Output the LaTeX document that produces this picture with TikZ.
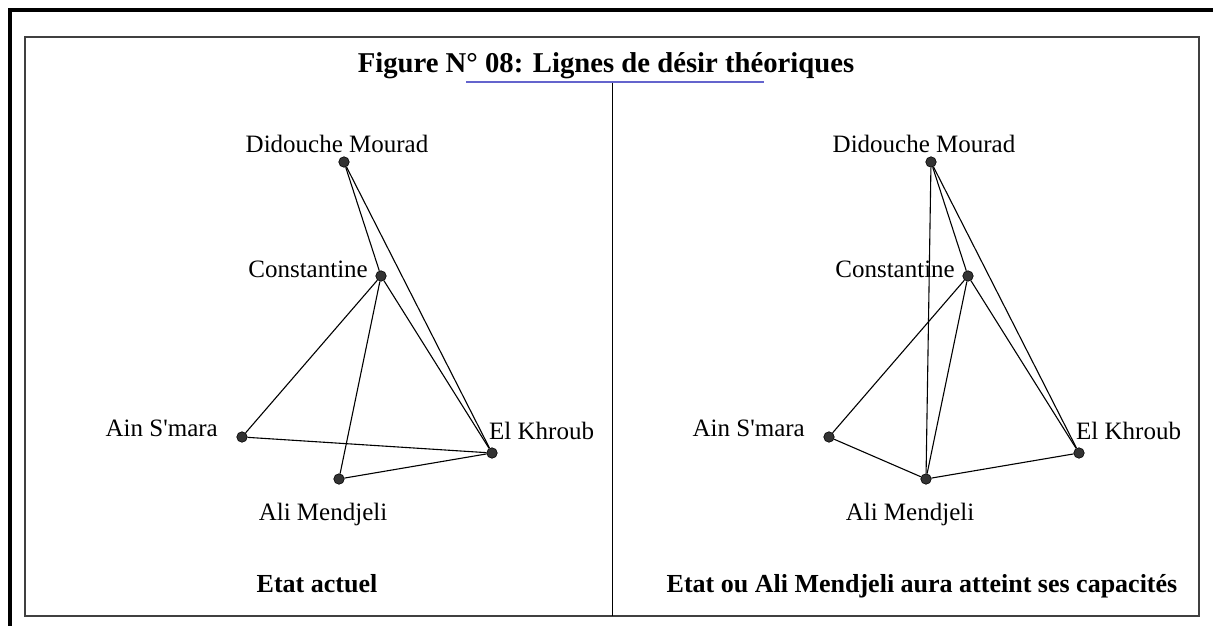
\documentclass[tikz,border=0pt]{standalone}
\usepackage{fontspec}
\setmainfont{Liberation Serif}[Ligatures=TeXOff]
\usetikzlibrary{positioning}
\definecolor{linkblue}{RGB}{100,100,205}
\def\panelsep{587}

\begin{document}
\begin{tikzpicture}[x=1pt,y=-1pt]
    \tikzstyle{town}=[circle,draw=black,fill=black!80,minimum size=10.5pt,inner sep=0pt,line width=0.6pt]
    \tikzstyle{townname}=[font=\fontsize{25}{30}\selectfont,inner sep=0pt]
    \tikzstyle{caption}=[font=\fontsize{26}{30}\selectfont\bfseries,inner sep=0pt,anchor=base]
    \tikzstyle{road}=[draw=black,line width=1.1pt]

    \useasboundingbox (0,0) rectangle (1213,626);

    % page frame and figure box
    \draw[line width=4pt] (10,640) -- (10,10) -- (1230,10);
    \draw[black!75,line width=1.3pt] (25,37) rectangle (1199,616);

    % title
    \node[font=\fontsize{28.7}{32}\selectfont\bfseries,inner sep=0pt,anchor=base] (title) at (606,73)
        {Figure N° 08: Lignes de désir théoriques};
    \coordinate (ul-a) at (466,82);
    \coordinate (ul-b) at (764,82);
    \draw[linkblue,line width=1.2pt] (ul-a) -- (ul-b);

    % panel separator
    \coordinate (sep-top) at (612,83);
    \coordinate (sep-bot) at (612,616);
    \draw[line width=1pt] (sep-top) -- (sep-bot);

    % towns, same places in both panels
    \foreach \p / \dx in {L/0,R/\panelsep} {
        \node[town] (\p-dm) at (344+\dx,162) {};
        \node[town] (\p-c)  at (381+\dx,276) {};
        \node[town] (\p-as) at (242+\dx,437) {};
        \node[town] (\p-ek) at (492+\dx,453) {};
        \node[town] (\p-am) at (339+\dx,479) {};

        \node[townname,anchor=base]      (\p-dm-t) at (337+\dx,152) {Didouche Mourad};
        \node[townname,anchor=base east] (\p-c-t)  at (368+\dx,277) {Constantine};
        \node[townname,anchor=base east] (\p-as-t) at (218+\dx,436) {Ain S'mara};
        \node[townname,anchor=base west] (\p-ek-t) at (489+\dx,439) {El Khroub};
        \node[townname,anchor=base]      (\p-am-t) at (323+\dx,520) {Ali Mendjeli};
    }

    % desire lines, present state
    \foreach \a / \b in {dm/c,dm/ek,c/as,c/am,c/ek,as/ek,am/ek}
        \path[road] (L-\a) -- (L-\b);

    % desire lines, Ali Mendjeli at full capacity
    \foreach \a / \b in {dm/am,dm/c,dm/ek,c/as,c/am,c/ek,as/am,am/ek}
        \path[road] (R-\a) -- (R-\b);

    % panel captions
    \node[caption] (cap-L) at (317,592) {Etat actuel};
    \node[caption] (cap-R) at (922,592) {Etat ou Ali Mendjeli aura atteint ses capacités};
\end{tikzpicture}
\end{document}
